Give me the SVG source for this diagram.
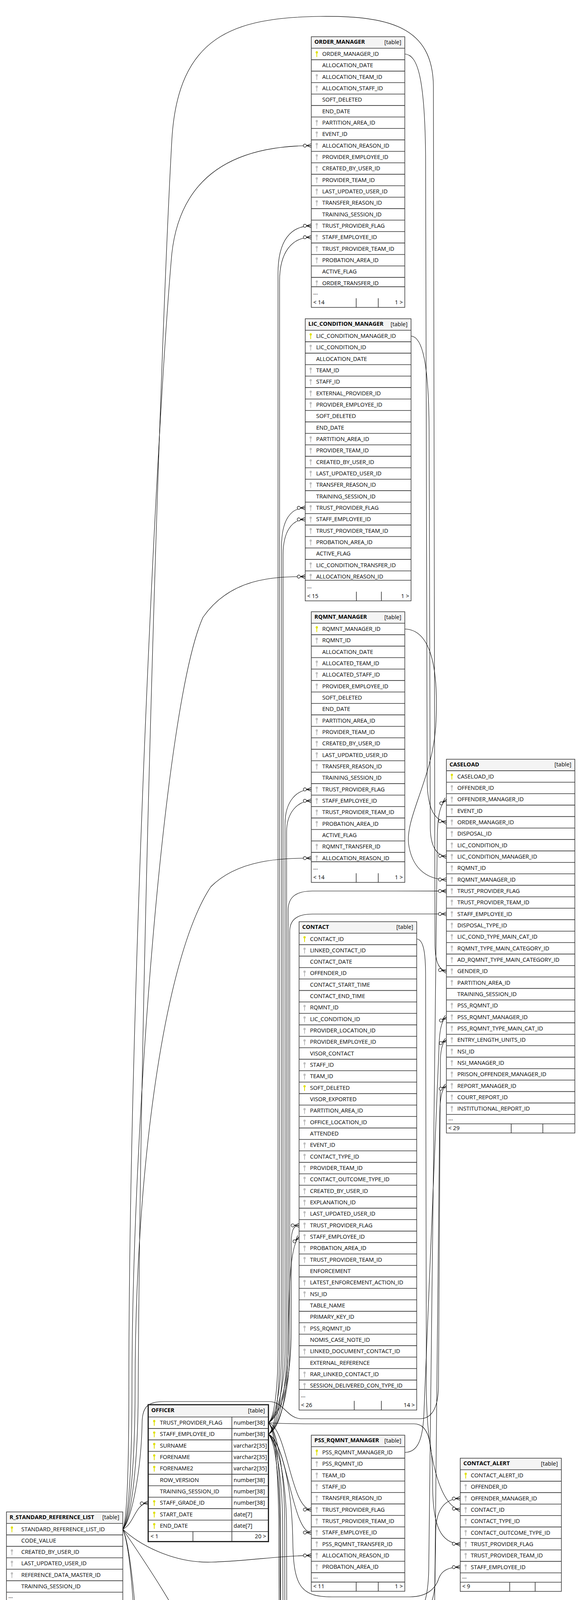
<svg xmlns="http://www.w3.org/2000/svg" xmlns:xlink="http://www.w3.org/1999/xlink" width="1488" height="5804" viewBox="0 0 1488 5804">
<style>
.bg{fill:#fff}
.hd{fill:#f4f4f4}
.bd{fill:none;stroke:#333;stroke-width:1.5}
.sep{fill:none;stroke:#333;stroke-width:1.6}
.t{font-family:"Open Sans","Noto Sans","DejaVu Sans",sans-serif;font-size:14.5px;fill:#000}
.b{font-weight:bold}
.r{text-anchor:end}
.e{fill:none;stroke:#000;stroke-width:1.1}
.ce{fill:none;stroke:#000;stroke-width:1.1;marker-end:url(#crow)}
</style>
<defs>
<marker id="crow" markerUnits="userSpaceOnUse" orient="auto" refX="0" refY="0" markerWidth="30" markerHeight="20" viewBox="-24 -10 30 20" overflow="visible">
<path d="M-12,0L0,-5M-12,0L0,0M-12,0L0,5" fill="none" stroke="#000" stroke-width="1.2"/>
<circle cx="-16.5" cy="0" r="4" fill="#fff" stroke="#000" stroke-width="1.2"/>
</marker>
<g id="ky" fill="#e0e000"><circle cx="14" cy="10.5" r="2.9"/><rect x="13" y="12.5" width="2" height="10"/></g>
<g id="kg" fill="#bdbdbd"><circle cx="14" cy="10.5" r="2.9"/><rect x="13" y="12.5" width="2" height="10"/></g>
</defs>
<rect width="1488" height="5804" fill="#fff"/>

<g id="connectors">
<path class="ce" d="M314.5,3914.7C326,3890 330,3750 330,3550C330,2600 400,1100 440,650C465,420 640,373 797.3,372.8"/>
<path class="ce" d="M314.5,3914.7C330,3890 338,3750 338,3550C338,2900 420,1800 520,1580C590,1480 700,1476 781.7,1476.1"/>
<path class="ce" d="M314.5,3914.7C332,3890 346,3750 346,3550C346,3000 420,2450 540,2270C610,2200 720,2197 797.3,2196.8"/>
<path class="ce" d="M314.5,3914.7C336,3890 354,3750 354,3550C360,2500 410,900 440,360C455,90 600,45 820,42C1000,40 1108,70 1110,220L1114,2420C1115,2465 1125,2483 1143.3,2486.4"/>
<path class="ce" d="M314.5,3914.7C338,3890 362,3760 364,3640C365,3600 380,3588 420,3588L690,3588C725,3588 735,3630 770,3632L1075,3632C1108,3632 1122,3600 1123,3550L1128,2710C1129,2685 1133,2668 1143.3,2662.4"/>
<path class="ce" d="M314.5,3914.7C345,3900 345,3850 379.5,3847.5"/>
<path class="ce" d="M314.5,3914.7C350,3950 440,4002 541,3999C640,3996 720,3982 797.3,3982.1"/>
<path class="ce" d="M314.5,3914.7C345,3960 400,4040 440,4110C520,4250 620,4370 797.3,4380.8"/>
<path class="ce" d="M314.5,3914.7C340,3970 352,4200 365,4350C390,4600 560,5100 650,5350C700,5490 706,5560 706,5620C706,5648 722,5657 755.3,5657.3"/>
<path class="ce" d="M314.5,3914.7C338,3970 350,4200 353,4440C356,4800 368,5150 400,5350C440,5570 590,5684 755.3,5686.6"/>
<path class="ce" d="M687.5,3642.2C702,3630 712,3560 712,3450L712,700C712,615 745,578 797.3,578.1"/>
<path class="ce" d="M687.5,3671.5C704,3660 716,3580 716,3450L716,720C716,645 748,607 797.3,607.45"/>
<path class="ce" d="M687.5,3642.2C704,3630 721,3560 721,3450L721,1400C721,1330 745,1300 781.7,1300.1"/>
<path class="ce" d="M687.5,3671.5C706,3660 725,3580 725,3450L725,1420C725,1360 748,1330 781.7,1329.45"/>
<path class="ce" d="M687.5,3642.2C706,3630 730,3560 730,3450L730,2110C730,2050 760,2021 797.3,2020.8"/>
<path class="ce" d="M687.5,3671.5C708,3660 734,3580 734,3450L734,2130C734,2080 762,2050 797.3,2050.1"/>
<path class="ce" d="M687.5,3642.2C708,3630 738,3560 738,3450L738,2330C738,2295 760,2281 800,2281L1143.3,2281.1"/>
<path class="ce" d="M687.5,3671.5C710,3660 742,3580 742,3450L742,2385C742,2355 760,2340 800,2340L1143.3,2339.7"/>
<path class="ce" d="M687.5,3642.2C712,3630 746,3560 746,3400L746,3180C746,3150 752,3137 766,3136.9"/>
<path class="ce" d="M687.5,3671.5C712,3660 736,3600 738,3450C740,3300 742,3190 766,3166.2"/>
<path class="ce" d="M687.5,3642.2C735,3655 745,3864 797.3,3864.8"/>
<path class="ce" d="M687.5,3671.5C735,3690 748,3923 797.3,3923.5"/>
<path class="ce" d="M687.5,3642.2C730,3645 760,3645 800,3645L1060,3645C1098,3645 1108,3690 1108,3800C1108,3910 1130,3950 1178.7,3953.1"/>
<path class="ce" d="M687.5,3671.5C720,3690 748,3800 750,3950C752,4060 770,4088 850,4088L1050,4088C1100,4088 1118,4060 1124,4040C1132,4020 1148,4012 1178.7,4011.8"/>
<path class="ce" d="M687.5,3642.2C706,3660 718,3750 718,3900L720,4420C721,4495 760,4522 797.3,4527.5"/>
<path class="ce" d="M687.5,3671.5C708,3690 724,3780 724,3920L726,4450C727,4525 762,4552 797.3,4556.8"/>
<path class="ce" d="M687.5,3642.2C708,3660 729,3760 729,3900L731,4770C731,4815 760,4834.5 820,4834.5L1189.3,4834.5"/>
<path class="ce" d="M687.5,3671.5C710,3690 734,3780 734,3920L736,4830C736,4875 762,4893 820,4893L1189.3,4893.1"/>
<path class="ce" d="M687.5,3642.2C704,3660 712,3760 714,3900L719,5300C720,5400 730,5440 755.3,5451.95"/>
<path class="ce" d="M687.5,3671.5C705,3690 716,3780 717,3920L722,5320C723,5420 733,5470 755.3,5481.3"/>
<path class="ce" d="M1036.7,138.2C1070,140 1088,200 1090,400L1094,2000C1095,2075 1115,2100 1143.3,2105.1"/>
<path class="ce" d="M1052.7,860.2C1082,862 1098,930 1099,1100L1102,2120C1103,2170 1120,2190 1143.3,2193.1"/>
<path class="ce" d="M1036.7,1610.2C1100,1612 1125,1700 1116,1860C1106,2000 1032,2100 1048,2170C1060,2230 1100,2251.7 1143.3,2251.7"/>
<path class="ce" d="M1036.7,4146.2C1076,4146 1096,4110 1098,4020L1120,2140C1121,2085 1128,2058 1143.3,2046.4"/>
<path class="ce" d="M1036.7,4146.2C1082,4146 1112,4120 1114,4050L1116,3920C1117,3862 1140,3837 1178.7,3835.8"/>
<path class="ce" d="M1036.7,4146.2C1090,4150 1122,4210 1130,4360C1138,4560 1150,4683 1189.3,4687.8"/>
<path class="ce" d="M1036.7,3718.2C1068,3718 1084,3690 1086,3610L1124,2690C1125,2640 1130,2612 1143.3,2603.7"/>
<path class="ce" d="M1079.3,4982.7C1096,4975 1104,4950 1105,4900L1126,2860C1127,2810 1131,2786 1143.3,2779.7"/>
<path class="ce" d="M1067.3,2403.7C1085,2405 1090,2440 1090,2500L1092,3560C1093,3720 1125,3855 1178.7,3865.2"/>
</g>

<g id="order_manager" transform="translate(797.3,94)">
<rect class="bg" width="239.4" height="692.93"/><rect class="hd" width="239.4" height="29.5"/>
<path class="sep" d="M0,29.5h239.4m-239.4,29.33h239.4m-239.4,29.33h239.4m-239.4,29.33h239.4m-239.4,29.33h239.4m-239.4,29.33h239.4m-239.4,29.33h239.4m-239.4,29.33h239.4m-239.4,29.33h239.4m-239.4,29.33h239.4m-239.4,29.33h239.4m-239.4,29.33h239.4m-239.4,29.33h239.4m-239.4,29.33h239.4m-239.4,29.33h239.4m-239.4,29.33h239.4m-239.4,29.33h239.4m-239.4,29.33h239.4m-239.4,29.33h239.4m-239.4,29.33h239.4m-239.4,29.33h239.4m-239.4,24h239.4M115,669.43V692.93M171.4,669.43V692.93"/>
<rect class="bd" width="239.4" height="692.93"/>
<use href="#ky" y="29.5"/><use href="#kg" y="88.16"/><use href="#kg" y="117.49"/><use href="#kg" y="205.48"/><use href="#kg" y="234.81"/><use href="#kg" y="264.14"/><use href="#kg" y="293.47"/><use href="#kg" y="322.8"/><use href="#kg" y="352.13"/><use href="#kg" y="381.46"/><use href="#kg" y="410.79"/><use href="#kg" y="469.45"/><use href="#kg" y="498.78"/><use href="#kg" y="528.11"/><use href="#kg" y="557.44"/><use href="#kg" y="616.1"/>
<text class="t b" x="8" y="18">ORDER_MANAGER</text><text class="t r" x="230.4" y="18.5">[table]</text>
<text class="t" x="28" y="49"><tspan x="28">ORDER_MANAGER_ID</tspan><tspan x="28" dy="29.33">ALLOCATION_DATE</tspan><tspan x="28" dy="29.33">ALLOCATION_TEAM_ID</tspan><tspan x="28" dy="29.33">ALLOCATION_STAFF_ID</tspan><tspan x="28" dy="29.33">SOFT_DELETED</tspan><tspan x="28" dy="29.33">END_DATE</tspan><tspan x="28" dy="29.33">PARTITION_AREA_ID</tspan><tspan x="28" dy="29.33">EVENT_ID</tspan><tspan x="28" dy="29.33">ALLOCATION_REASON_ID</tspan><tspan x="28" dy="29.33">PROVIDER_EMPLOYEE_ID</tspan><tspan x="28" dy="29.33">CREATED_BY_USER_ID</tspan><tspan x="28" dy="29.33">PROVIDER_TEAM_ID</tspan><tspan x="28" dy="29.33">LAST_UPDATED_USER_ID</tspan><tspan x="28" dy="29.33">TRANSFER_REASON_ID</tspan><tspan x="28" dy="29.33">TRAINING_SESSION_ID</tspan><tspan x="28" dy="29.33">TRUST_PROVIDER_FLAG</tspan><tspan x="28" dy="29.33">STAFF_EMPLOYEE_ID</tspan><tspan x="28" dy="29.33">TRUST_PROVIDER_TEAM_ID</tspan><tspan x="28" dy="29.33">PROBATION_AREA_ID</tspan><tspan x="28" dy="29.33">ACTIVE_FLAG</tspan><tspan x="28" dy="29.33">ORDER_TRANSFER_ID</tspan></text>
<text class="t" x="5" y="660.43">...</text><text class="t" x="5" y="685.43">&lt; 14</text><text class="t r" x="234.4" y="685.43">1 &gt;</text>
</g>

<g id="lic_condition_manager" transform="translate(781.7,816)">
<rect class="bg" width="271" height="722.26"/><rect class="hd" width="271" height="29.5"/>
<path class="sep" d="M0,29.5h271m-271,29.33h271m-271,29.33h271m-271,29.33h271m-271,29.33h271m-271,29.33h271m-271,29.33h271m-271,29.33h271m-271,29.33h271m-271,29.33h271m-271,29.33h271m-271,29.33h271m-271,29.33h271m-271,29.33h271m-271,29.33h271m-271,29.33h271m-271,29.33h271m-271,29.33h271m-271,29.33h271m-271,29.33h271m-271,29.33h271m-271,29.33h271m-271,24h271M131,698.76V722.26M195,698.76V722.26"/>
<rect class="bd" width="271" height="722.26"/>
<use href="#ky" y="29.5"/><use href="#kg" y="58.83"/><use href="#kg" y="117.49"/><use href="#kg" y="146.82"/><use href="#kg" y="176.15"/><use href="#kg" y="205.48"/><use href="#kg" y="293.47"/><use href="#kg" y="322.8"/><use href="#kg" y="352.13"/><use href="#kg" y="381.46"/><use href="#kg" y="410.79"/><use href="#kg" y="469.45"/><use href="#kg" y="498.78"/><use href="#kg" y="528.11"/><use href="#kg" y="557.44"/><use href="#kg" y="616.1"/><use href="#kg" y="645.43"/>
<text class="t b" x="8" y="18">LIC_CONDITION_MANAGER</text><text class="t r" x="262" y="18.5">[table]</text>
<text class="t" x="28" y="49"><tspan x="28">LIC_CONDITION_MANAGER_ID</tspan><tspan x="28" dy="29.33">LIC_CONDITION_ID</tspan><tspan x="28" dy="29.33">ALLOCATION_DATE</tspan><tspan x="28" dy="29.33">TEAM_ID</tspan><tspan x="28" dy="29.33">STAFF_ID</tspan><tspan x="28" dy="29.33">EXTERNAL_PROVIDER_ID</tspan><tspan x="28" dy="29.33">PROVIDER_EMPLOYEE_ID</tspan><tspan x="28" dy="29.33">SOFT_DELETED</tspan><tspan x="28" dy="29.33">END_DATE</tspan><tspan x="28" dy="29.33">PARTITION_AREA_ID</tspan><tspan x="28" dy="29.33">PROVIDER_TEAM_ID</tspan><tspan x="28" dy="29.33">CREATED_BY_USER_ID</tspan><tspan x="28" dy="29.33">LAST_UPDATED_USER_ID</tspan><tspan x="28" dy="29.33">TRANSFER_REASON_ID</tspan><tspan x="28" dy="29.33">TRAINING_SESSION_ID</tspan><tspan x="28" dy="29.33">TRUST_PROVIDER_FLAG</tspan><tspan x="28" dy="29.33">STAFF_EMPLOYEE_ID</tspan><tspan x="28" dy="29.33">TRUST_PROVIDER_TEAM_ID</tspan><tspan x="28" dy="29.33">PROBATION_AREA_ID</tspan><tspan x="28" dy="29.33">ACTIVE_FLAG</tspan><tspan x="28" dy="29.33">LIC_CONDITION_TRANSFER_ID</tspan><tspan x="28" dy="29.33">ALLOCATION_REASON_ID</tspan></text>
<text class="t" x="5" y="689.76">...</text><text class="t" x="5" y="714.76">&lt; 15</text><text class="t r" x="266" y="714.76">1 &gt;</text>
</g>

<g id="rqmnt_manager" transform="translate(797.3,1566)">
<rect class="bg" width="239.4" height="692.93"/><rect class="hd" width="239.4" height="29.5"/>
<path class="sep" d="M0,29.5h239.4m-239.4,29.33h239.4m-239.4,29.33h239.4m-239.4,29.33h239.4m-239.4,29.33h239.4m-239.4,29.33h239.4m-239.4,29.33h239.4m-239.4,29.33h239.4m-239.4,29.33h239.4m-239.4,29.33h239.4m-239.4,29.33h239.4m-239.4,29.33h239.4m-239.4,29.33h239.4m-239.4,29.33h239.4m-239.4,29.33h239.4m-239.4,29.33h239.4m-239.4,29.33h239.4m-239.4,29.33h239.4m-239.4,29.33h239.4m-239.4,29.33h239.4m-239.4,29.33h239.4m-239.4,24h239.4M115,669.43V692.93M171.4,669.43V692.93"/>
<rect class="bd" width="239.4" height="692.93"/>
<use href="#ky" y="29.5"/><use href="#kg" y="58.83"/><use href="#kg" y="117.49"/><use href="#kg" y="146.82"/><use href="#kg" y="176.15"/><use href="#kg" y="264.14"/><use href="#kg" y="293.47"/><use href="#kg" y="322.8"/><use href="#kg" y="352.13"/><use href="#kg" y="381.46"/><use href="#kg" y="440.12"/><use href="#kg" y="469.45"/><use href="#kg" y="498.78"/><use href="#kg" y="528.11"/><use href="#kg" y="586.77"/><use href="#kg" y="616.1"/>
<text class="t b" x="8" y="18">RQMNT_MANAGER</text><text class="t r" x="230.4" y="18.5">[table]</text>
<text class="t" x="28" y="49"><tspan x="28">RQMNT_MANAGER_ID</tspan><tspan x="28" dy="29.33">RQMNT_ID</tspan><tspan x="28" dy="29.33">ALLOCATION_DATE</tspan><tspan x="28" dy="29.33">ALLOCATED_TEAM_ID</tspan><tspan x="28" dy="29.33">ALLOCATED_STAFF_ID</tspan><tspan x="28" dy="29.33">PROVIDER_EMPLOYEE_ID</tspan><tspan x="28" dy="29.33">SOFT_DELETED</tspan><tspan x="28" dy="29.33">END_DATE</tspan><tspan x="28" dy="29.33">PARTITION_AREA_ID</tspan><tspan x="28" dy="29.33">PROVIDER_TEAM_ID</tspan><tspan x="28" dy="29.33">CREATED_BY_USER_ID</tspan><tspan x="28" dy="29.33">LAST_UPDATED_USER_ID</tspan><tspan x="28" dy="29.33">TRANSFER_REASON_ID</tspan><tspan x="28" dy="29.33">TRAINING_SESSION_ID</tspan><tspan x="28" dy="29.33">TRUST_PROVIDER_FLAG</tspan><tspan x="28" dy="29.33">STAFF_EMPLOYEE_ID</tspan><tspan x="28" dy="29.33">TRUST_PROVIDER_TEAM_ID</tspan><tspan x="28" dy="29.33">PROBATION_AREA_ID</tspan><tspan x="28" dy="29.33">ACTIVE_FLAG</tspan><tspan x="28" dy="29.33">RQMNT_TRANSFER_ID</tspan><tspan x="28" dy="29.33">ALLOCATION_REASON_ID</tspan></text>
<text class="t" x="5" y="660.43">...</text><text class="t" x="5" y="685.43">&lt; 14</text><text class="t r" x="234.4" y="685.43">1 &gt;</text>
</g>

<g id="caseload" transform="translate(1143.3,1943.6)">
<rect class="bg" width="329" height="956.9"/><rect class="hd" width="329" height="29.5"/>
<path class="sep" d="M0,29.5h329m-329,29.33h329m-329,29.33h329m-329,29.33h329m-329,29.33h329m-329,29.33h329m-329,29.33h329m-329,29.33h329m-329,29.33h329m-329,29.33h329m-329,29.33h329m-329,29.33h329m-329,29.33h329m-329,29.33h329m-329,29.33h329m-329,29.33h329m-329,29.33h329m-329,29.33h329m-329,29.33h329m-329,29.33h329m-329,29.33h329m-329,29.33h329m-329,29.33h329m-329,29.33h329m-329,29.33h329m-329,29.33h329m-329,29.33h329m-329,29.33h329m-329,29.33h329m-329,29.33h329m-329,29.33h329m-329,24h329M166,933.4V956.9M247,933.4V956.9"/>
<rect class="bd" width="329" height="956.9"/>
<use href="#ky" y="29.5"/><use href="#kg" y="58.83"/><use href="#kg" y="88.16"/><use href="#kg" y="117.49"/><use href="#kg" y="146.82"/><use href="#kg" y="176.15"/><use href="#kg" y="205.48"/><use href="#kg" y="234.81"/><use href="#kg" y="264.14"/><use href="#kg" y="293.47"/><use href="#kg" y="322.8"/><use href="#kg" y="352.13"/><use href="#kg" y="381.46"/><use href="#kg" y="410.79"/><use href="#kg" y="440.12"/><use href="#kg" y="469.45"/><use href="#kg" y="498.78"/><use href="#kg" y="528.11"/><use href="#kg" y="557.44"/><use href="#kg" y="616.1"/><use href="#kg" y="645.43"/><use href="#kg" y="674.76"/><use href="#kg" y="704.09"/><use href="#kg" y="733.42"/><use href="#kg" y="762.75"/><use href="#kg" y="792.08"/><use href="#kg" y="821.41"/><use href="#kg" y="850.74"/><use href="#kg" y="880.07"/>
<text class="t b" x="8" y="18">CASELOAD</text><text class="t r" x="320" y="18.5">[table]</text>
<text class="t" x="28" y="49"><tspan x="28">CASELOAD_ID</tspan><tspan x="28" dy="29.33">OFFENDER_ID</tspan><tspan x="28" dy="29.33">OFFENDER_MANAGER_ID</tspan><tspan x="28" dy="29.33">EVENT_ID</tspan><tspan x="28" dy="29.33">ORDER_MANAGER_ID</tspan><tspan x="28" dy="29.33">DISPOSAL_ID</tspan><tspan x="28" dy="29.33">LIC_CONDITION_ID</tspan><tspan x="28" dy="29.33">LIC_CONDITION_MANAGER_ID</tspan><tspan x="28" dy="29.33">RQMNT_ID</tspan><tspan x="28" dy="29.33">RQMNT_MANAGER_ID</tspan><tspan x="28" dy="29.33">TRUST_PROVIDER_FLAG</tspan><tspan x="28" dy="29.33">TRUST_PROVIDER_TEAM_ID</tspan><tspan x="28" dy="29.33">STAFF_EMPLOYEE_ID</tspan><tspan x="28" dy="29.33">DISPOSAL_TYPE_ID</tspan><tspan x="28" dy="29.33">LIC_COND_TYPE_MAIN_CAT_ID</tspan><tspan x="28" dy="29.33">RQMNT_TYPE_MAIN_CATEGORY_ID</tspan><tspan x="28" dy="29.33">AD_RQMNT_TYPE_MAIN_CATEGORY_ID</tspan><tspan x="28" dy="29.33">GENDER_ID</tspan><tspan x="28" dy="29.33">PARTITION_AREA_ID</tspan><tspan x="28" dy="29.33">TRAINING_SESSION_ID</tspan><tspan x="28" dy="29.33">PSS_RQMNT_ID</tspan><tspan x="28" dy="29.33">PSS_RQMNT_MANAGER_ID</tspan><tspan x="28" dy="29.33">PSS_RQMNT_TYPE_MAIN_CAT_ID</tspan><tspan x="28" dy="29.33">ENTRY_LENGTH_UNITS_ID</tspan><tspan x="28" dy="29.33">NSI_ID</tspan><tspan x="28" dy="29.33">NSI_MANAGER_ID</tspan><tspan x="28" dy="29.33">PRISON_OFFENDER_MANAGER_ID</tspan><tspan x="28" dy="29.33">REPORT_MANAGER_ID</tspan><tspan x="28" dy="29.33">COURT_REPORT_ID</tspan><tspan x="28" dy="29.33">INSTITUTIONAL_REPORT_ID</tspan></text>
<text class="t" x="5" y="924.4">...</text><text class="t" x="5" y="949.4">&lt; 29</text>
</g>

<g id="contact" transform="translate(766,2359.5)">
<rect class="bg" width="301.3" height="1250.2"/><rect class="hd" width="301.3" height="29.5"/>
<path class="sep" d="M0,29.5h301.3m-301.3,29.33h301.3m-301.3,29.33h301.3m-301.3,29.33h301.3m-301.3,29.33h301.3m-301.3,29.33h301.3m-301.3,29.33h301.3m-301.3,29.33h301.3m-301.3,29.33h301.3m-301.3,29.33h301.3m-301.3,29.33h301.3m-301.3,29.33h301.3m-301.3,29.33h301.3m-301.3,29.33h301.3m-301.3,29.33h301.3m-301.3,29.33h301.3m-301.3,29.33h301.3m-301.3,29.33h301.3m-301.3,29.33h301.3m-301.3,29.33h301.3m-301.3,29.33h301.3m-301.3,29.33h301.3m-301.3,29.33h301.3m-301.3,29.33h301.3m-301.3,29.33h301.3m-301.3,29.33h301.3m-301.3,29.33h301.3m-301.3,29.33h301.3m-301.3,29.33h301.3m-301.3,29.33h301.3m-301.3,29.33h301.3m-301.3,29.33h301.3m-301.3,29.33h301.3m-301.3,29.33h301.3m-301.3,29.33h301.3m-301.3,29.33h301.3m-301.3,29.33h301.3m-301.3,29.33h301.3m-301.3,29.33h301.3m-301.3,29.33h301.3m-301.3,24h301.3M141.3,1226.7V1250.2M210.7,1226.7V1250.2"/>
<rect class="bd" width="301.3" height="1250.2"/>
<use href="#ky" y="29.5"/><use href="#kg" y="58.83"/><use href="#kg" y="117.49"/><use href="#kg" y="205.48"/><use href="#kg" y="234.81"/><use href="#kg" y="264.14"/><use href="#kg" y="293.47"/><use href="#kg" y="352.13"/><use href="#kg" y="381.46"/><use href="#ky" y="410.79"/><use href="#kg" y="469.45"/><use href="#kg" y="498.78"/><use href="#kg" y="557.44"/><use href="#kg" y="586.77"/><use href="#kg" y="616.1"/><use href="#kg" y="645.43"/><use href="#kg" y="674.76"/><use href="#kg" y="704.09"/><use href="#kg" y="733.42"/><use href="#kg" y="762.75"/><use href="#kg" y="792.08"/><use href="#kg" y="821.41"/><use href="#kg" y="850.74"/><use href="#kg" y="909.4"/><use href="#kg" y="938.73"/><use href="#kg" y="1026.72"/><use href="#kg" y="1085.38"/><use href="#kg" y="1144.04"/><use href="#kg" y="1173.37"/>
<text class="t b" x="8" y="18">CONTACT</text><text class="t r" x="292.3" y="18.5">[table]</text>
<text class="t" x="28" y="49"><tspan x="28">CONTACT_ID</tspan><tspan x="28" dy="29.33">LINKED_CONTACT_ID</tspan><tspan x="28" dy="29.33">CONTACT_DATE</tspan><tspan x="28" dy="29.33">OFFENDER_ID</tspan><tspan x="28" dy="29.33">CONTACT_START_TIME</tspan><tspan x="28" dy="29.33">CONTACT_END_TIME</tspan><tspan x="28" dy="29.33">RQMNT_ID</tspan><tspan x="28" dy="29.33">LIC_CONDITION_ID</tspan><tspan x="28" dy="29.33">PROVIDER_LOCATION_ID</tspan><tspan x="28" dy="29.33">PROVIDER_EMPLOYEE_ID</tspan><tspan x="28" dy="29.33">VISOR_CONTACT</tspan><tspan x="28" dy="29.33">STAFF_ID</tspan><tspan x="28" dy="29.33">TEAM_ID</tspan><tspan x="28" dy="29.33">SOFT_DELETED</tspan><tspan x="28" dy="29.33">VISOR_EXPORTED</tspan><tspan x="28" dy="29.33">PARTITION_AREA_ID</tspan><tspan x="28" dy="29.33">OFFICE_LOCATION_ID</tspan><tspan x="28" dy="29.33">ATTENDED</tspan><tspan x="28" dy="29.33">EVENT_ID</tspan><tspan x="28" dy="29.33">CONTACT_TYPE_ID</tspan><tspan x="28" dy="29.33">PROVIDER_TEAM_ID</tspan><tspan x="28" dy="29.33">CONTACT_OUTCOME_TYPE_ID</tspan><tspan x="28" dy="29.33">CREATED_BY_USER_ID</tspan><tspan x="28" dy="29.33">EXPLANATION_ID</tspan><tspan x="28" dy="29.33">LAST_UPDATED_USER_ID</tspan><tspan x="28" dy="29.33">TRUST_PROVIDER_FLAG</tspan><tspan x="28" dy="29.33">STAFF_EMPLOYEE_ID</tspan><tspan x="28" dy="29.33">PROBATION_AREA_ID</tspan><tspan x="28" dy="29.33">TRUST_PROVIDER_TEAM_ID</tspan><tspan x="28" dy="29.33">ENFORCEMENT</tspan><tspan x="28" dy="29.33">LATEST_ENFORCEMENT_ACTION_ID</tspan><tspan x="28" dy="29.33">NSI_ID</tspan><tspan x="28" dy="29.33">TABLE_NAME</tspan><tspan x="28" dy="29.33">PRIMARY_KEY_ID</tspan><tspan x="28" dy="29.33">PSS_RQMNT_ID</tspan><tspan x="28" dy="29.33">NOMIS_CASE_NOTE_ID</tspan><tspan x="28" dy="29.33">LINKED_DOCUMENT_CONTACT_ID</tspan><tspan x="28" dy="29.33">EXTERNAL_REFERENCE</tspan><tspan x="28" dy="29.33">RAR_LINKED_CONTACT_ID</tspan><tspan x="28" dy="29.33">SESSION_DELIVERED_CON_TYPE_ID</tspan></text>
<text class="t" x="5" y="1217.7">...</text><text class="t" x="5" y="1242.7">&lt; 26</text><text class="t r" x="296.3" y="1242.7">14 &gt;</text>
</g>

<g id="officer" transform="translate(379.5,3596)">
<rect class="bg" width="308" height="350.5"/><rect class="hd" width="308" height="31.5"/>
<path class="sep" d="M0,31.5h308m-308,29.33h308m-308,29.33h308m-308,29.33h308m-308,29.33h308m-308,29.33h308m-308,29.33h308m-308,29.33h308m-308,29.33h308m-308,29.33h308m-308,29.33h308M214.3,31.5V350.5M114.7,324.8V350.5"/>
<rect width="308" height="350.5" fill="none" stroke="#222" stroke-width="3"/>
<g transform="translate(1.5,0)"><use href="#ky" y="31.5"/><use href="#ky" y="60.83"/><use href="#ky" y="90.16"/><use href="#ky" y="119.49"/><use href="#ky" y="148.82"/><use href="#ky" y="236.81"/><use href="#ky" y="266.14"/><use href="#ky" y="295.47"/></g>
<text class="t b" x="8" y="19">OFFICER</text><text class="t r" x="299" y="20">[table]</text>
<text class="t" x="30" y="51"><tspan x="30">TRUST_PROVIDER_FLAG</tspan><tspan x="30" dy="29.33">STAFF_EMPLOYEE_ID</tspan><tspan x="30" dy="29.33">SURNAME</tspan><tspan x="30" dy="29.33">FORENAME</tspan><tspan x="30" dy="29.33">FORENAME2</tspan><tspan x="30" dy="29.33">ROW_VERSION</tspan><tspan x="30" dy="29.33">TRAINING_SESSION_ID</tspan><tspan x="30" dy="29.33">STAFF_GRADE_ID</tspan><tspan x="30" dy="29.33">START_DATE</tspan><tspan x="30" dy="29.33">END_DATE</tspan></text>
<text class="t" x="218.8" y="51"><tspan x="218.8">number[38]</tspan><tspan x="218.8" dy="29.33">number[38]</tspan><tspan x="218.8" dy="29.33">varchar2[35]</tspan><tspan x="218.8" dy="29.33">varchar2[35]</tspan><tspan x="218.8" dy="29.33">varchar2[35]</tspan><tspan x="218.8" dy="29.33">number[38]</tspan><tspan x="218.8" dy="29.33">number[38]</tspan><tspan x="218.8" dy="29.33">number[38]</tspan><tspan x="218.8" dy="29.33">date[7]</tspan><tspan x="218.8" dy="29.33">date[7]</tspan></text>
<text class="t" x="6" y="342">&lt; 1</text><text class="t r" x="302" y="342">20 &gt;</text>
</g>

<g id="r_standard_reference_list" transform="translate(16.5,3870.5)">
<rect class="bg" width="298" height="252.98"/><rect class="hd" width="298" height="29.5"/>
<path class="sep" d="M0,29.5h298m-298,29.33h298m-298,29.33h298m-298,29.33h298m-298,29.33h298m-298,29.33h298m-298,29.33h298m-298,24h298M132,229.48V252.98M199.8,229.48V252.98"/>
<rect class="bd" width="298" height="252.98"/>
<use href="#ky" y="29.5"/><use href="#kg" y="88.16"/><use href="#kg" y="117.49"/><use href="#kg" y="146.82"/>
<text class="t b" x="8" y="18">R_STANDARD_REFERENCE_LIST</text><text class="t r" x="289" y="18.5">[table]</text>
<text class="t" x="38" y="49"><tspan x="38">STANDARD_REFERENCE_LIST_ID</tspan><tspan x="38" dy="29.33">CODE_VALUE</tspan><tspan x="38" dy="29.33">CREATED_BY_USER_ID</tspan><tspan x="38" dy="29.33">LAST_UPDATED_USER_ID</tspan><tspan x="38" dy="29.33">REFERENCE_DATA_MASTER_ID</tspan><tspan x="38" dy="29.33">TRAINING_SESSION_ID</tspan></text>
<text class="t" x="5" y="220.48">...</text><text class="t" x="5" y="245.48">&lt; 1</text><text class="t r" x="293" y="245.48">325 &gt;</text>
</g>

<g id="pss_rqmnt_manager" transform="translate(797.3,3674)">
<rect class="bg" width="239.4" height="399.63"/><rect class="hd" width="239.4" height="29.5"/>
<path class="sep" d="M0,29.5h239.4m-239.4,29.33h239.4m-239.4,29.33h239.4m-239.4,29.33h239.4m-239.4,29.33h239.4m-239.4,29.33h239.4m-239.4,29.33h239.4m-239.4,29.33h239.4m-239.4,29.33h239.4m-239.4,29.33h239.4m-239.4,29.33h239.4m-239.4,29.33h239.4m-239.4,24h239.4M115,376.13V399.63M171.4,376.13V399.63"/>
<rect class="bd" width="239.4" height="399.63"/>
<use href="#ky" y="29.5"/><use href="#kg" y="58.83"/><use href="#kg" y="88.16"/><use href="#kg" y="117.49"/><use href="#kg" y="146.82"/><use href="#kg" y="176.15"/><use href="#kg" y="205.48"/><use href="#kg" y="234.81"/><use href="#kg" y="264.14"/><use href="#kg" y="293.47"/><use href="#kg" y="322.8"/>
<text class="t b" x="8" y="18">PSS_RQMNT_MANAGER</text><text class="t r" x="230.4" y="18.5">[table]</text>
<text class="t" x="28" y="49"><tspan x="28">PSS_RQMNT_MANAGER_ID</tspan><tspan x="28" dy="29.33">PSS_RQMNT_ID</tspan><tspan x="28" dy="29.33">TEAM_ID</tspan><tspan x="28" dy="29.33">STAFF_ID</tspan><tspan x="28" dy="29.33">TRANSFER_REASON_ID</tspan><tspan x="28" dy="29.33">TRUST_PROVIDER_FLAG</tspan><tspan x="28" dy="29.33">TRUST_PROVIDER_TEAM_ID</tspan><tspan x="28" dy="29.33">STAFF_EMPLOYEE_ID</tspan><tspan x="28" dy="29.33">PSS_RQMNT_TRANSFER_ID</tspan><tspan x="28" dy="29.33">ALLOCATION_REASON_ID</tspan><tspan x="28" dy="29.33">PROBATION_AREA_ID</tspan></text>
<text class="t" x="5" y="367.13">...</text><text class="t" x="5" y="392.13">&lt; 11</text><text class="t r" x="234.4" y="392.13">1 &gt;</text>
</g>

<g id="contact_alert" transform="translate(1178.7,3733)">
<rect class="bg" width="259" height="340.97"/><rect class="hd" width="259" height="29.5"/>
<path class="sep" d="M0,29.5h259m-259,29.33h259m-259,29.33h259m-259,29.33h259m-259,29.33h259m-259,29.33h259m-259,29.33h259m-259,29.33h259m-259,29.33h259m-259,29.33h259m-259,24h259M126.7,317.47V340.97M191.9,317.47V340.97"/>
<rect class="bd" width="259" height="340.97"/>
<use href="#ky" y="29.5"/><use href="#kg" y="58.83"/><use href="#kg" y="88.16"/><use href="#kg" y="117.49"/><use href="#kg" y="146.82"/><use href="#kg" y="176.15"/><use href="#kg" y="205.48"/><use href="#kg" y="234.81"/><use href="#kg" y="264.14"/>
<text class="t b" x="8" y="18">CONTACT_ALERT</text><text class="t r" x="250" y="18.5">[table]</text>
<text class="t" x="27" y="49"><tspan x="27">CONTACT_ALERT_ID</tspan><tspan x="27" dy="29.33">OFFENDER_ID</tspan><tspan x="27" dy="29.33">OFFENDER_MANAGER_ID</tspan><tspan x="27" dy="29.33">CONTACT_ID</tspan><tspan x="27" dy="29.33">CONTACT_TYPE_ID</tspan><tspan x="27" dy="29.33">CONTACT_OUTCOME_TYPE_ID</tspan><tspan x="27" dy="29.33">TRUST_PROVIDER_FLAG</tspan><tspan x="27" dy="29.33">TRUST_PROVIDER_TEAM_ID</tspan><tspan x="27" dy="29.33">STAFF_EMPLOYEE_ID</tspan></text>
<text class="t" x="5" y="308.47">...</text><text class="t" x="5" y="333.47">&lt; 9</text>
</g>

<g id="offender_manager" transform="translate(797.3,4102)">
<rect class="bg" width="239.4" height="663.6"/><rect class="hd" width="239.4" height="29.5"/>
<path class="sep" d="M0,29.5h239.4m-239.4,29.33h239.4m-239.4,29.33h239.4m-239.4,29.33h239.4m-239.4,29.33h239.4m-239.4,29.33h239.4m-239.4,29.33h239.4m-239.4,29.33h239.4m-239.4,29.33h239.4m-239.4,29.33h239.4m-239.4,29.33h239.4m-239.4,29.33h239.4m-239.4,29.33h239.4m-239.4,29.33h239.4m-239.4,29.33h239.4m-239.4,29.33h239.4m-239.4,29.33h239.4m-239.4,29.33h239.4m-239.4,29.33h239.4m-239.4,29.33h239.4m-239.4,24h239.4M115,640.1V663.6M171.4,640.1V663.6"/>
<rect class="bd" width="239.4" height="663.6"/>
<use href="#ky" y="29.5"/><use href="#kg" y="117.49"/><use href="#kg" y="146.82"/><use href="#kg" y="176.15"/><use href="#kg" y="205.48"/><use href="#kg" y="264.14"/><use href="#kg" y="293.47"/><use href="#kg" y="322.8"/><use href="#kg" y="352.13"/><use href="#kg" y="410.79"/><use href="#kg" y="440.12"/><use href="#kg" y="469.45"/><use href="#kg" y="498.78"/><use href="#kg" y="557.44"/><use href="#kg" y="586.77"/>
<text class="t b" x="8" y="18">OFFENDER_MANAGER</text><text class="t r" x="230.4" y="18.5">[table]</text>
<text class="t" x="28" y="49"><tspan x="28">OFFENDER_MANAGER_ID</tspan><tspan x="28" dy="29.33">ALLOCATION_DATE</tspan><tspan x="28" dy="29.33">END_DATE</tspan><tspan x="28" dy="29.33">TEAM_ID</tspan><tspan x="28" dy="29.33">ALLOCATION_STAFF_ID</tspan><tspan x="28" dy="29.33">PARTITION_AREA_ID</tspan><tspan x="28" dy="29.33">OFFENDER_ID</tspan><tspan x="28" dy="29.33">SOFT_DELETED</tspan><tspan x="28" dy="29.33">ALLOCATION_REASON_ID</tspan><tspan x="28" dy="29.33">PROVIDER_EMPLOYEE_ID</tspan><tspan x="28" dy="29.33">OFFENDER_TRANSFER_ID</tspan><tspan x="28" dy="29.33">PROVIDER_TEAM_ID</tspan><tspan x="28" dy="29.33">TRAINING_SESSION_ID</tspan><tspan x="28" dy="29.33">TRUST_PROVIDER_FLAG</tspan><tspan x="28" dy="29.33">STAFF_EMPLOYEE_ID</tspan><tspan x="28" dy="29.33">PROBATION_AREA_ID</tspan><tspan x="28" dy="29.33">TRUST_PROVIDER_TEAM_ID</tspan><tspan x="28" dy="29.33">ACTIVE_FLAG</tspan><tspan x="28" dy="29.33">CREATED_BY_USER_ID</tspan><tspan x="28" dy="29.33">LAST_UPDATED_USER_ID</tspan></text>
<text class="t" x="5" y="631.1">...</text><text class="t" x="5" y="656.1">&lt; 13</text><text class="t r" x="234.4" y="656.1">4 &gt;</text>
</g>

<g id="cohort_diary" transform="translate(1189.3,4585)">
<rect class="bg" width="238.7" height="516.95"/><rect class="hd" width="238.7" height="29.5"/>
<path class="sep" d="M0,29.5h238.7m-238.7,29.33h238.7m-238.7,29.33h238.7m-238.7,29.33h238.7m-238.7,29.33h238.7m-238.7,29.33h238.7m-238.7,29.33h238.7m-238.7,29.33h238.7m-238.7,29.33h238.7m-238.7,29.33h238.7m-238.7,29.33h238.7m-238.7,29.33h238.7m-238.7,29.33h238.7m-238.7,29.33h238.7m-238.7,29.33h238.7m-238.7,29.33h238.7m-238.7,24h238.7M118,493.45V516.95M180,493.45V516.95"/>
<rect class="bd" width="238.7" height="516.95"/>
<use href="#ky" y="29.5"/><use href="#kg" y="58.83"/><use href="#kg" y="88.16"/><use href="#kg" y="117.49"/><use href="#kg" y="146.82"/><use href="#kg" y="176.15"/><use href="#kg" y="205.48"/><use href="#kg" y="234.81"/><use href="#kg" y="264.14"/><use href="#kg" y="293.47"/><use href="#kg" y="352.13"/>
<text class="t b" x="8" y="18">COHORT_DIARY</text><text class="t r" x="229.7" y="18.5">[table]</text>
<text class="t" x="28" y="49"><tspan x="28">COHORT_DIARY_ID</tspan><tspan x="28" dy="29.33">OFFENDER_ID</tspan><tspan x="28" dy="29.33">OFFENDER_MANAGER_ID</tspan><tspan x="28" dy="29.33">EVENT_ID</tspan><tspan x="28" dy="29.33">MAIN_OFFENCE_ID</tspan><tspan x="28" dy="29.33">DISPOSAL_ID</tspan><tspan x="28" dy="29.33">DISPOSAL_TYPE_ID</tspan><tspan x="28" dy="29.33">TRUST_PROVIDER_FLAG</tspan><tspan x="28" dy="29.33">TRUST_PROVIDER_TEAM_ID</tspan><tspan x="28" dy="29.33">STAFF_EMPLOYEE_ID</tspan><tspan x="28" dy="29.33">COHORT</tspan><tspan x="28" dy="29.33">PROBATION_AREA_ID</tspan><tspan x="28" dy="29.33">FIRST_RELEASE_DATE</tspan><tspan x="28" dy="29.33">DISPOSAL_DATE</tspan><tspan x="28" dy="29.33">OFFENCE_DATE</tspan></text>
<text class="t" x="5" y="484.45">...</text><text class="t" x="5" y="509.45">&lt; 11</text>
</g>

<g id="report_manager" transform="translate(755.3,4938.5)">
<rect class="bg" width="324" height="810.25"/><rect class="hd" width="324" height="29.5"/>
<path class="sep" d="M0,29.5h324m-324,29.33h324m-324,29.33h324m-324,29.33h324m-324,29.33h324m-324,29.33h324m-324,29.33h324m-324,29.33h324m-324,29.33h324m-324,29.33h324m-324,29.33h324m-324,29.33h324m-324,29.33h324m-324,29.33h324m-324,29.33h324m-324,29.33h324m-324,29.33h324m-324,29.33h324m-324,29.33h324m-324,29.33h324m-324,29.33h324m-324,29.33h324m-324,29.33h324m-324,29.33h324m-324,29.33h324m-324,29.33h324m-324,24h324M157.4,786.75V810.25M234.4,786.75V810.25"/>
<rect class="bd" width="324" height="810.25"/>
<use href="#ky" y="29.5"/><use href="#kg" y="58.83"/><use href="#kg" y="117.49"/><use href="#kg" y="146.82"/><use href="#kg" y="176.15"/><use href="#kg" y="205.48"/><use href="#kg" y="234.81"/><use href="#kg" y="264.14"/><use href="#kg" y="352.13"/><use href="#kg" y="381.46"/><use href="#kg" y="410.79"/><use href="#kg" y="440.12"/><use href="#kg" y="498.78"/><use href="#kg" y="528.11"/><use href="#kg" y="557.44"/><use href="#kg" y="586.77"/><use href="#kg" y="645.43"/><use href="#kg" y="674.76"/><use href="#kg" y="704.09"/><use href="#kg" y="733.42"/>
<text class="t b" x="8" y="18">REPORT_MANAGER</text><text class="t r" x="315" y="18.5">[table]</text>
<text class="t" x="28" y="49"><tspan x="28">REPORT_MANAGER_ID</tspan><tspan x="28" dy="29.33">PARTITION_AREA_ID</tspan><tspan x="28" dy="29.33">SOFT_DELETED</tspan><tspan x="28" dy="29.33">EVENT_ID</tspan><tspan x="28" dy="29.33">COURT_REPORT_ID</tspan><tspan x="28" dy="29.33">INSTITUTIONAL_REPORT_ID</tspan><tspan x="28" dy="29.33">TEAM_ID</tspan><tspan x="28" dy="29.33">STAFF_ID</tspan><tspan x="28" dy="29.33">PROVIDER_EMPLOYEE_ID</tspan><tspan x="28" dy="29.33">ALLOCATION_DATE</tspan><tspan x="28" dy="29.33">END_DATE</tspan><tspan x="28" dy="29.33">CREATED_BY_USER_ID</tspan><tspan x="28" dy="29.33">PROVIDER_TEAM_ID</tspan><tspan x="28" dy="29.33">LAST_UPDATED_USER_ID</tspan><tspan x="28" dy="29.33">TRANSFER_REASON_ID</tspan><tspan x="28" dy="29.33">TRAINING_SESSION_ID</tspan><tspan x="28" dy="29.33">TRUST_PROVIDER_FLAG</tspan><tspan x="28" dy="29.33">STAFF_EMPLOYEE_ID</tspan><tspan x="28" dy="29.33">TRUST_PROVIDER_TEAM_ID</tspan><tspan x="28" dy="29.33">PROBATION_AREA_ID</tspan><tspan x="28" dy="29.33">ACTIVE_FLAG</tspan><tspan x="28" dy="29.33">INSTITUTIONAL_REP_TRANSFER_ID</tspan><tspan x="28" dy="29.33">COURT_REPORT_TRANSFER_ID</tspan><tspan x="28" dy="29.33">INST_REP_ALLOCATION_REASON_ID</tspan><tspan x="28" dy="29.33">COURT_REP_ALLOCATION_REASON_ID</tspan></text>
<text class="t" x="5" y="777.75">...</text><text class="t" x="5" y="802.75">&lt; 18</text><text class="t r" x="319" y="802.75">1 &gt;</text>
</g>

<text id="footer-note" class="t" x="16" y="5788">Generated by SchemaSpy</text>
</svg>
